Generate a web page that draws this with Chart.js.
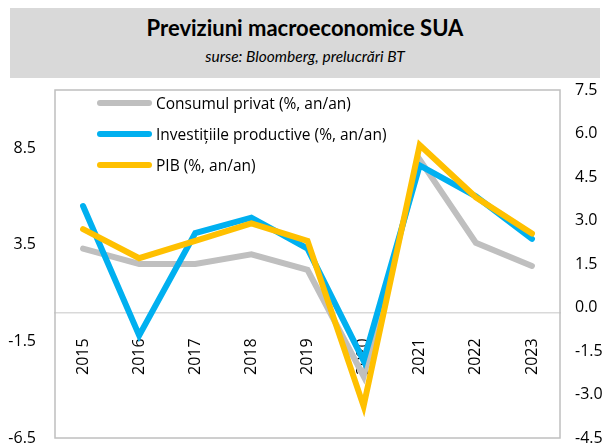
<!DOCTYPE html>
<html>
<head>
<meta charset="utf-8">
<script src="https://cdn.jsdelivr.net/npm/chart.js@4.4.0/dist/chart.umd.min.js"></script>
<style>
  body { margin: 0; background: #fff; }
  #wrap { position: relative; width: 611px; height: 446px; font-family: "Open Sans", sans-serif; color: #000; }
  #banner { position: absolute; left: 10px; top: 8px; width: 590px; height: 70px; background: #d9d9d9; text-align: center; font-family: Lato, sans-serif; }
  #banner h1 { margin: 0; padding-top: 7px; font-size: 22px; font-weight: bold; line-height: 26px; }
  #banner p { margin: 0; padding-top: 5px; font-size: 15.5px; font-style: italic; line-height: 20px; }
  #chart { position: absolute; left: 0; top: 0; }
  #legend { position: absolute; left: 97px; top: 87px; }
  .item { display: flex; align-items: center; height: 31px; font-size: 15.5px; white-space: nowrap; }
  .swatch { width: 55px; height: 6px; border-radius: 3px; margin-right: 4px; }
</style>
</head>
<body>
<div id="wrap">
  <canvas id="chart" width="611" height="446"></canvas>
  <div id="banner">
    <h1>Previziuni macroeconomice SUA</h1>
    <p>surse: Bloomberg, prelucrări BT</p>
  </div>
  <div id="legend"></div>
</div>
<script>
// date
const ani = ["2015", "2016", "2017", "2018", "2019", "2020", "2021", "2022", "2023"];
const consum = [3.3, 2.5, 2.5, 3.0, 2.2, -3.3, 7.9, 3.6, 2.4];
const investitii = [5.5, -1.2, 4.1, 4.9, 3.3, -2.5, 7.6, 6.0, 3.8];
const pib = [2.7, 1.7, 2.3, 2.9, 2.3, -3.4, 5.6, 3.8, 2.55];

const ticksStanga = [-6.5, -1.5, 3.5, 8.5];
const ticksDreapta = [-4.5, -3.0, -1.5, 0.0, 1.5, 3.0, 4.5, 6.0, 7.5];

const serii = [
  { label: "Consumul privat (%, an/an)", data: consum, color: "#bfbfbf", axis: "yL", order: 3 },
  { label: "Investițiile productive (%, an/an)", data: investitii, color: "#00b0f0", axis: "yL", order: 2 },
  { label: "PIB (%, an/an)", data: pib, color: "#ffc000", axis: "yR", order: 1 }
];

// legenda
const legend = document.getElementById("legend");
serii.forEach(s => {
  const row = document.createElement("div");
  row.className = "item";
  row.innerHTML = '<span class="swatch" style="background:' + s.color + '"></span>' + s.label;
  legend.appendChild(row);
});

// rama zonei de grafic
const rama = {
  id: "rama",
  beforeDatasetsDraw(chart) {
    const a = chart.chartArea;
    const c = chart.ctx;
    c.save();
    c.strokeStyle = "#bfbfbf";
    c.lineWidth = 1.5;
    c.strokeRect(a.left, a.top, a.right - a.left, a.bottom - a.top);
    c.restore();
  }
};

const font = { family: "Open Sans", size: 16, lineHeight: 1 };

// tick-uri invizibile doar pentru distanta fata de axa
const gridY = len => ({ display: true, drawOnChartArea: false, drawTicks: true, tickLength: len, tickColor: "rgba(0,0,0,0)" });

new Chart(document.getElementById("chart"), {
  type: "line",
  data: {
    labels: ani,
    datasets: serii.map(s => ({
      label: s.label,
      data: s.data,
      yAxisID: s.axis,
      order: s.order,
      borderColor: s.color,
      borderWidth: 6,
      borderCapStyle: "round",
      borderJoinStyle: "miter",
      pointRadius: 0,
      tension: 0
    }))
  },
  options: {
    responsive: false,
    animation: false,
    layout: { padding: { top: 90, bottom: 8, left: 0, right: 0 } },
    plugins: {
      legend: { display: false },
      tooltip: { enabled: false }
    },
    scales: {
      x: {
        position: { yL: 0 },
        offset: true,
        grid: { display: false },
        border: { display: true, color: "#d9d9d9", width: 1.5 },
        ticks: { color: "#000", font: font, minRotation: 90, maxRotation: 90, padding: 18, autoSkip: false },
        afterFit: s => { s.height = 0; }
      },
      yL: {
        position: "left",
        min: -6.5,
        max: 11.5,
        grid: gridY(19),
        border: { display: false },
        ticks: { color: "#000", font: font, padding: 0, callback: v => v.toFixed(1) },
        afterBuildTicks: s => { s.ticks = ticksStanga.map(v => ({ value: v })); },
        afterFit: s => { s.width = 55; }
      },
      yR: {
        position: "right",
        min: -4.5,
        max: 7.5,
        grid: gridY(15),
        border: { display: false },
        ticks: { color: "#000", font: font, padding: 0, callback: v => v.toFixed(1) },
        afterBuildTicks: s => { s.ticks = ticksDreapta.map(v => ({ value: v })); },
        afterFit: s => { s.width = 51; }
      }
    }
  },
  plugins: [rama]
});
</script>
</body>
</html>
